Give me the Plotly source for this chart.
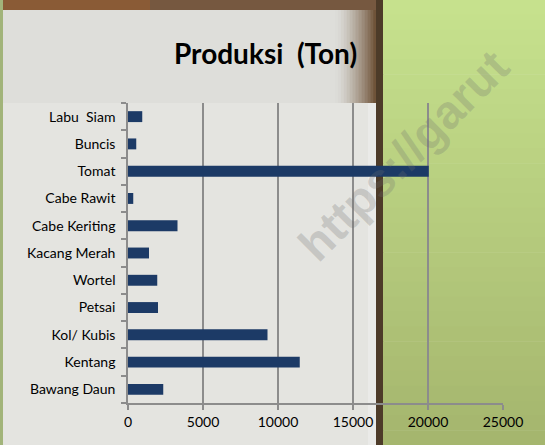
import plotly.graph_objects as go

categories = ["Bawang Daun", "Kentang", "Kol/ Kubis", "Petsai", "Wortel",
              "Kacang Merah", "Cabe Keriting", "Cabe Rawit", "Tomat", "Buncis", "Labu  Siam"]
produksi = [2350, 11450, 9300, 2000, 1950, 1400, 3300, 350, 20050, 550, 950]
x_ticks = [0, 5000, 10000, 15000, 20000, 25000]

FONT = "Lato"

fig = go.Figure()
fig.add_trace(go.Bar(
    y=categories, x=produksi, orientation="h",
    marker=dict(color="#1c3a66", line=dict(width=0)),
    width=0.4,
))

shapes = []

# convert pixel coords to paper coords (plot area x: 128..503, y: 103..403)
def P(xp, yp):
    return ((xp - 128) / 375.0, (403 - yp) / 300.0)

def prect(x0, y0, x1, y1, color):
    a = P(x0, y0); b = P(x1, y1)
    shapes.append(dict(type="rect", xref="paper", yref="paper", x0=a[0], x1=b[0], y0=b[1], y1=a[1],
                       fillcolor=color, line=dict(width=0), layer="below"))

def mix(c1, c2, t):
    a = [int(c1[i:i + 2], 16) for i in (1, 3, 5)]
    b = [int(c2[i:i + 2], 16) for i in (1, 3, 5)]
    return "#%02x%02x%02x" % tuple(round(a[k] + (b[k] - a[k]) * t) for k in range(3))

prect(0, 0, 384, 445, "#e4e4e0")
prect(0, 10, 384, 103, "#dededa")
prect(368, 103, 377, 445, "#eaeae8")
# brown gradient beside the title
n = 14
for i in range(n):
    x0 = 335 + i * (41 / n)
    prect(x0, 10, x0 + 41 / n + 0.5, 103, mix("#dcdcd8", "#6f5339", (i / (n - 1)) ** 1.4))
prect(0, 0, 150, 10, "#8a5b36")
prect(150, 0, 384, 10, "#765840")
prect(376, 0, 384, 445, "#4d3b29")
# green area gradient
nb = 30
for i in range(nb):
    y0 = i * 445 / nb
    prect(383, y0, 545, y0 + 445 / nb + 0.6, mix("#c6e18d", "#a5b66e", i / (nb - 1)))
prect(0, 0, 3, 445, "#a2b47a")

fig.update_layout(
    width=545, height=445,
    margin=dict(l=128, r=42, t=103, b=42, pad=0),
    paper_bgcolor="rgba(0,0,0,0)",
    plot_bgcolor="rgba(0,0,0,0)",
    showlegend=False,
    bargap=0.6,
    shapes=shapes,
    font=dict(family=FONT, color="#000000", size=14),
    annotations=[
        dict(text="<b>Produksi  (Ton)</b>", xref="paper", yref="paper",
             x=P(265, 0)[0], y=P(0, 53)[1], showarrow=False,
             font=dict(family=FONT, size=28, color="#000000"),
             xanchor="center", yanchor="middle"),
        dict(text="<b>https://garut</b>", xref="paper", yref="paper",
             x=P(403, 0)[0], y=P(0, 155)[1], showarrow=False, textangle=-45,
             font=dict(family="Liberation Sans", size=47, color="rgba(110,110,110,0.26)"),
             xanchor="center", yanchor="middle"),
    ],
    xaxis=dict(
        range=[0, 25000], tickvals=x_ticks, ticktext=[str(v) for v in x_ticks],
        showgrid=True, gridcolor="#8c8c8c", gridwidth=1.5,
        showline=True, linecolor="#8c8c8c", linewidth=1.5,
        ticks="outside", ticklen=5, tickcolor="#8c8c8c", tickwidth=1.5,
        zeroline=False, tickfont=dict(family=FONT, size=14, color="#000"),
        fixedrange=True,
    ),
    yaxis=dict(
        categoryorder="array", categoryarray=categories,
        showline=True, linecolor="#8c8c8c", linewidth=1.5,
        ticks="outside", ticklen=5, tickcolor="#8c8c8c", tickwidth=1.5,
        tickson="boundaries", showgrid=False,
        tickfont=dict(family=FONT, size=14, color="#000"), ticklabelstandoff=8,
        fixedrange=True,
    ),
)

fig.write_html("out.html", config={"displayModeBar": False},
               post_script="document.body.style.margin='0px';")
